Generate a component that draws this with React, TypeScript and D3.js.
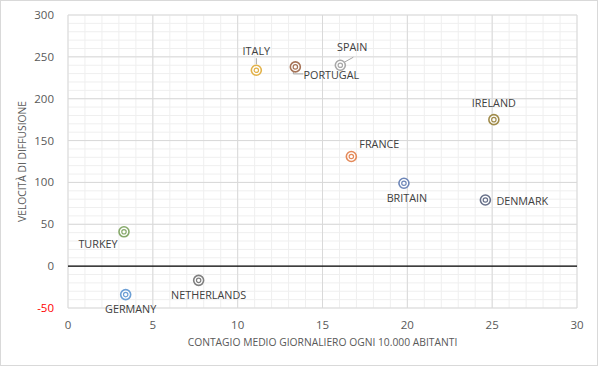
import React from 'react';
import * as d3 from 'd3';

const countries = ['ITALY', 'PORTUGAL', 'SPAIN', 'IRELAND', 'FRANCE', 'BRITAIN', 'DENMARK', 'TURKEY', 'GERMANY', 'NETHERLANDS'];
const contagio = [11.1, 13.4, 16.05, 25.1, 16.7, 19.8, 24.6, 3.3, 3.4, 7.7];
const velocita = [234, 238, 240, 175, 131, 99, 79, 41, -34, -17];
const colors = ['#E2B24A', '#A67458', '#A8A8A8', '#A08B4B', '#E48A5A', '#6D86B8', '#68718A', '#86A96A', '#6C9FD5', '#7F7F7F'];
// label offsets (dx, dy) relative to the point, and anchor
const labelPos: [number, number, string][] = [
  [0, -19, 'middle'], [36, 8, 'middle'], [12, -18, 'middle'], [0, -17, 'middle'], [28, -12, 'middle'],
  [3, 15, 'middle'], [11, 1, 'start'], [-26, 12, 'middle'], [5, 14, 'middle'], [10, 15, 'middle'],
];
const xTicks = [0, 5, 10, 15, 20, 25, 30];
const yTicks = [-50, 0, 50, 100, 150, 200, 250, 300];

const W = 599, H = 367;
const margin = { left: 68, right: 22, top: 15, bottom: 59 };

export default function App() {
  const x = d3.scaleLinear().domain([0, 30]).range([margin.left, W - margin.right]);
  const y = d3.scaleLinear().domain([-50, 300]).range([H - margin.bottom, margin.top]);
  const font = "'Open Sans', 'Liberation Sans', sans-serif";
  const minorX = d3.range(0, 31, 1);
  const minorY = d3.range(-50, 301, 10);

  return (
    <svg width={W} height={H} style={{ position: 'absolute', left: 0, top: 0, fontFamily: font }}>
      <rect x={0.5} y={0.5} width={W - 2} height={H - 2} fill="#fff" stroke="#d9d9d9" />
      {minorX.map(v => (
        <line key={'mx' + v} x1={x(v)} x2={x(v)} y1={y(-50)} y2={y(300)} stroke="#efefef" />
      ))}
      {minorY.map(v => (
        <line key={'my' + v} x1={x(0)} x2={x(30)} y1={y(v)} y2={y(v)} stroke="#efefef" />
      ))}
      {xTicks.map(v => (
        <line key={'gx' + v} x1={x(v)} x2={x(v)} y1={y(-50)} y2={y(300)} stroke="#d9d9d9" />
      ))}
      {yTicks.map(v => (
        <line key={'gy' + v} x1={x(0)} x2={x(30)} y1={y(v)} y2={y(v)} stroke={v === 0 ? '#000' : '#d9d9d9'} strokeWidth={v === 0 ? 1.2 : 1} />
      ))}
      {xTicks.map(v => (
        <text key={'tx' + v} x={x(v)} y={y(-50) + 21} textAnchor="middle" fontSize={11.5} fill="#595959">{v}</text>
      ))}
      {yTicks.map(v => (
        <text key={'ty' + v} x={x(0) - 14} y={y(v) + 4} textAnchor="end" fontSize={11.5} fill={v < 0 ? '#ff0000' : '#595959'}>{v}</text>
      ))}
      <text x={(x(0) + x(30)) / 2} y={346} textAnchor="middle" fontSize={10.3} fill="#595959">CONTAGIO MEDIO GIORNALIERO OGNI 10.000 ABITANTI</text>
      <text transform={`translate(26,${(y(-50) + y(300)) / 2}) rotate(-90)`} textAnchor="middle" fontSize={10.3} fill="#595959">VELOCITÀ DI DIFFUSIONE</text>
      {/* leader lines */}
      <line x1={x(contagio[0])} x2={x(contagio[0])} y1={y(velocita[0]) - 12} y2={y(velocita[0]) - 6} stroke="#a6a6a6" />
      <polyline points={`${x(contagio[1]) - 2},${y(velocita[1]) + 4} ${x(contagio[1]) - 2},${y(velocita[1]) + 7} ${x(contagio[1]) + 8},${y(velocita[1]) + 7}`} fill="none" stroke="#a6a6a6" />
      <line x1={x(contagio[2]) + 4} x2={x(contagio[2]) + 13} y1={y(velocita[2]) - 3} y2={y(velocita[2]) - 8} stroke="#a6a6a6" />
      {countries.map((c, i) => (
        <g key={c}>
          <circle cx={x(contagio[i])} cy={y(velocita[i])} r={5} fill="#fff" stroke={colors[i]} strokeWidth={1.6} />
          <circle cx={x(contagio[i])} cy={y(velocita[i])} r={2.2} fill="none" stroke={colors[i]} strokeWidth={1.2} />
        </g>
      ))}
      {countries.map((c, i) => (
        <text key={'l' + c} x={x(contagio[i]) + labelPos[i][0]} y={y(velocita[i]) + labelPos[i][1] + 4} textAnchor={labelPos[i][2]} fontSize={10.8} fill="#404040">{c}</text>
      ))}
    </svg>
  );
}
